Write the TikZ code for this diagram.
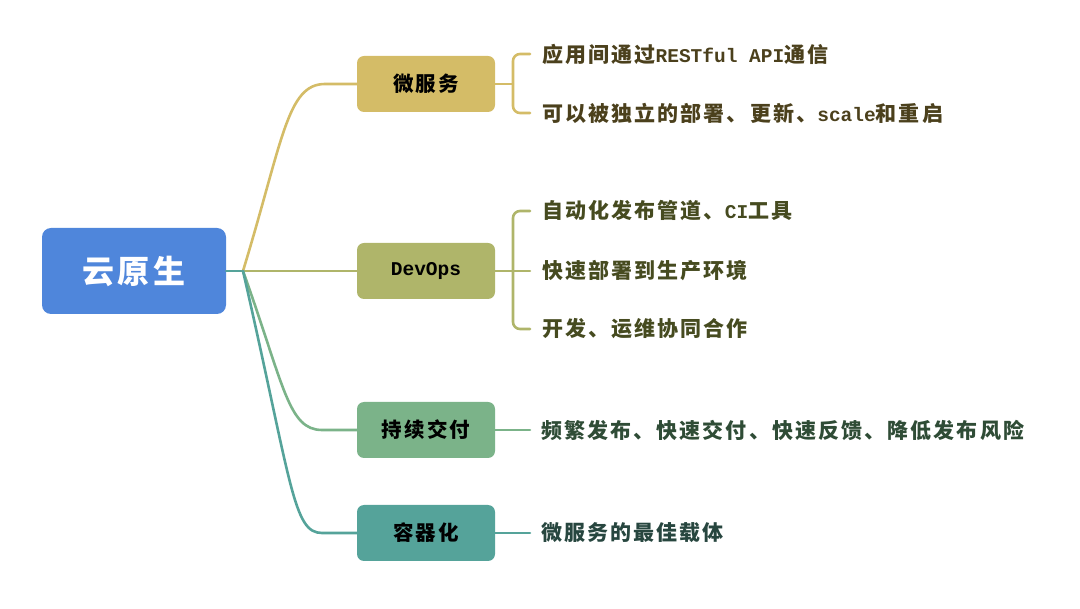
\documentclass[tikz,border=0pt]{standalone}
\usepackage{fontspec}
\newfontfamily\cjk[LetterSpace=10]{Noto Sans CJK SC}
\newfontfamily\lat{Liberation Mono}
\definecolor{rootblue}{HTML}{4F86DB}
\definecolor{cA}{HTML}{D4BC67}
\definecolor{cB}{HTML}{AFB56A}
\definecolor{cC}{HTML}{7BB389}
\definecolor{cD}{HTML}{55A39A}
\definecolor{tA}{HTML}{4B401C}
\definecolor{tB}{HTML}{464B20}
\definecolor{tC}{HTML}{2F4C36}
\definecolor{tD}{HTML}{27463F}
\tikzset{
  rootbox/.style={fill=rootblue, rounded corners=9pt, minimum width=184pt, minimum height=86pt, inner sep=0pt, text=white, font=\cjk\bfseries\fontsize{32}{36}\selectfont},
  topicbox/.style={rounded corners=7pt, minimum width=138pt, minimum height=56pt, inner sep=0pt, text=black, font=\cjk\bfseries\fontsize{20.5}{24}\selectfont},
  leaf/.style={anchor=west, inner sep=0pt, font=\cjk\bfseries\fontsize{21}{24}\selectfont},
  link/.style={line width=2.6pt, line cap=round},
}
\newcommand{\mylat}[1]{{\lat\bfseries\fontsize{19.5}{24}\selectfont #1}}
\begin{document}
\begin{tikzpicture}[x=1pt,y=-1pt]
\useasboundingbox (0,0) rectangle (1080,609);
% nodes
\node[rootbox] (root) at (134,271) {云原生};
\coordinate (hub) at (243,271);
\node[topicbox, fill=cA] (ms) at (426,84) {微服务};
\node[topicbox, fill=cB] (dev) at (426,271) {\mylat{DevOps}};
\node[topicbox, fill=cC] (cd) at (426,430) {持续交付};
\node[topicbox, fill=cD] (ct) at (426,533) {容器化};
% leaves
\node[leaf, text=tA] (a1) at (542,54) {应用间通过\mylat{RESTful API}通信};
\node[leaf, text=tA] (a2) at (542,113) {可以被独立的部署、更新、\mylat{scale}和重启};
\node[leaf, text=tB] (b1) at (542,211) {自动化发布管道、\mylat{CI}工具};
\node[leaf, text=tB] (b2) at (542,271) {快速部署到生产环境};
\node[leaf, text=tB] (b3) at (542,329) {开发、运维协同合作};
\node[leaf, text=tC] (c1) at (541,430) {频繁发布、快速交付、快速反馈、降低发布风险};
\node[leaf, text=tD] (d1) at (541,533) {微服务的最佳载体};
% root to hub
\draw[link, cD] (root.east) -- (hub);
% branches
\draw[link, cA] (hub) .. controls (283,140) and (287,84) .. (325,84) -- (ms.west);
\draw[link, cB] (hub) -- (dev.west);
\draw[link, cC] (hub) .. controls (284,385) and (288,430) .. (322,430) -- (cd.west);
\draw[link, cD] (hub) .. controls (292,485) and (293,533) .. (322,533) -- (ct.west);
% brackets
\draw[link, cA] (ms.east) -- (513,84);
\draw[link, cA, rounded corners=7pt] ([xshift=-12pt]a1.west) -- (513,54) -- (513,113) -- ([xshift=-12pt]a2.west);
\draw[link, cB] (dev.east) -- ([xshift=-12pt]b2.west);
\draw[link, cB, rounded corners=7pt] ([xshift=-12pt]b1.west) -- (513,211) -- (513,329) -- ([xshift=-12pt]b3.west);
\draw[link, cC] (cd.east) -- ([xshift=-11pt]c1.west);
\draw[link, cD] (ct.east) -- ([xshift=-11pt]d1.west);
\end{tikzpicture}
\end{document}
